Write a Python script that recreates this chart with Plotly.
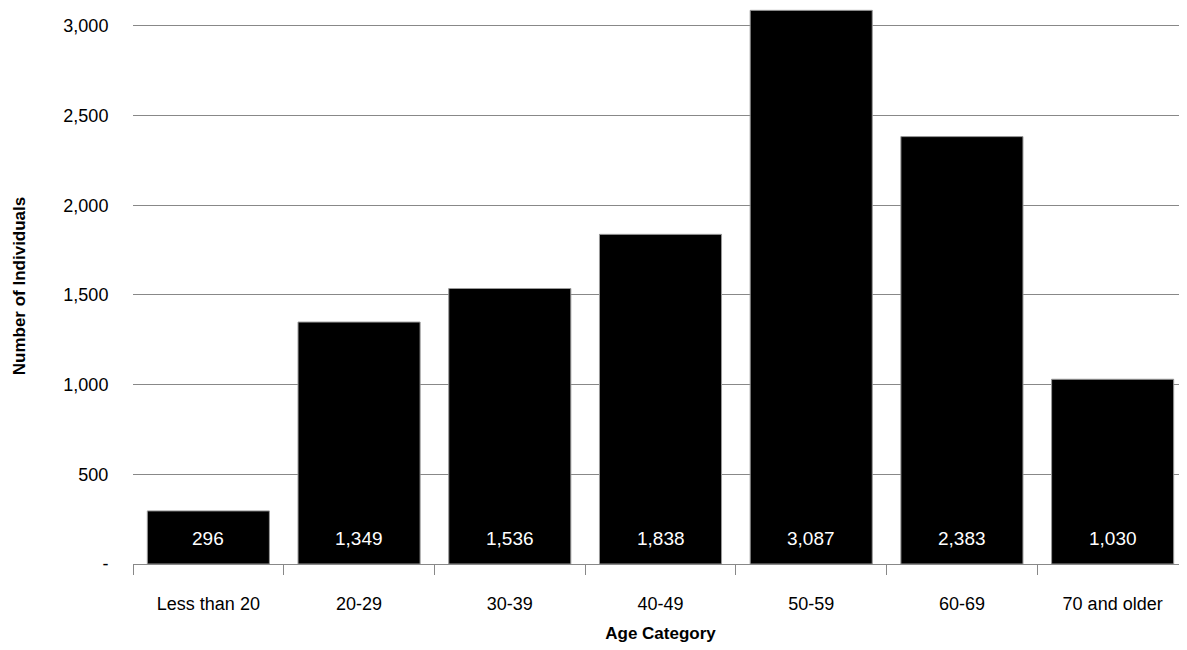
import plotly.graph_objects as go

categories = ["Less than 20", "20-29", "30-39", "40-49", "50-59", "60-69", "70 and older"]
values = [296, 1349, 1536, 1838, 3087, 2383, 1030]
labels = [f"{v:,}" for v in values]
ytick_vals = [0, 500, 1000, 1500, 2000, 2500, 3000]
ytick_text = ["-", "500", "1,000", "1,500", "2,000", "2,500", "3,000"]

fig = go.Figure(go.Bar(
    x=categories, y=values,
    marker=dict(color="black", line=dict(color="#999999", width=1)),
))
for c, t in zip(categories, labels):
    fig.add_annotation(x=c, y=0, text=t, showarrow=False, yshift=26,
                       font=dict(color="white", size=19, family="Liberation Sans"))
fig.update_layout(
    width=1187, height=650, margin=dict(l=125, r=7, t=0, b=94),
    plot_bgcolor="white", paper_bgcolor="white", bargap=0.19,
    font=dict(family="Liberation Sans", size=18, color="black"),
    showlegend=False,
)
fig.update_xaxes(title=dict(text="<b>Age Category</b>", font=dict(size=17), standoff=14),
                 automargin=False, ticklabelstandoff=23,
                 showline=True, linecolor="#888888", ticks="outside", tickson="boundaries",
                 ticklen=10, tickcolor="#888888", tickfont=dict(size=18))
fig.update_yaxes(title=dict(text="<b>Number of Individuals</b>", font=dict(size=17), standoff=33),
                 automargin=False,
                 range=[0, 3100], tickvals=ytick_vals, ticktext=ytick_text,
                 showgrid=True, gridcolor="#888888", zeroline=False, showline=False,
                 ticks="outside", ticklen=20, tickcolor="rgba(0,0,0,0)", tickfont=dict(size=18))
fig.write_html("out.html")
